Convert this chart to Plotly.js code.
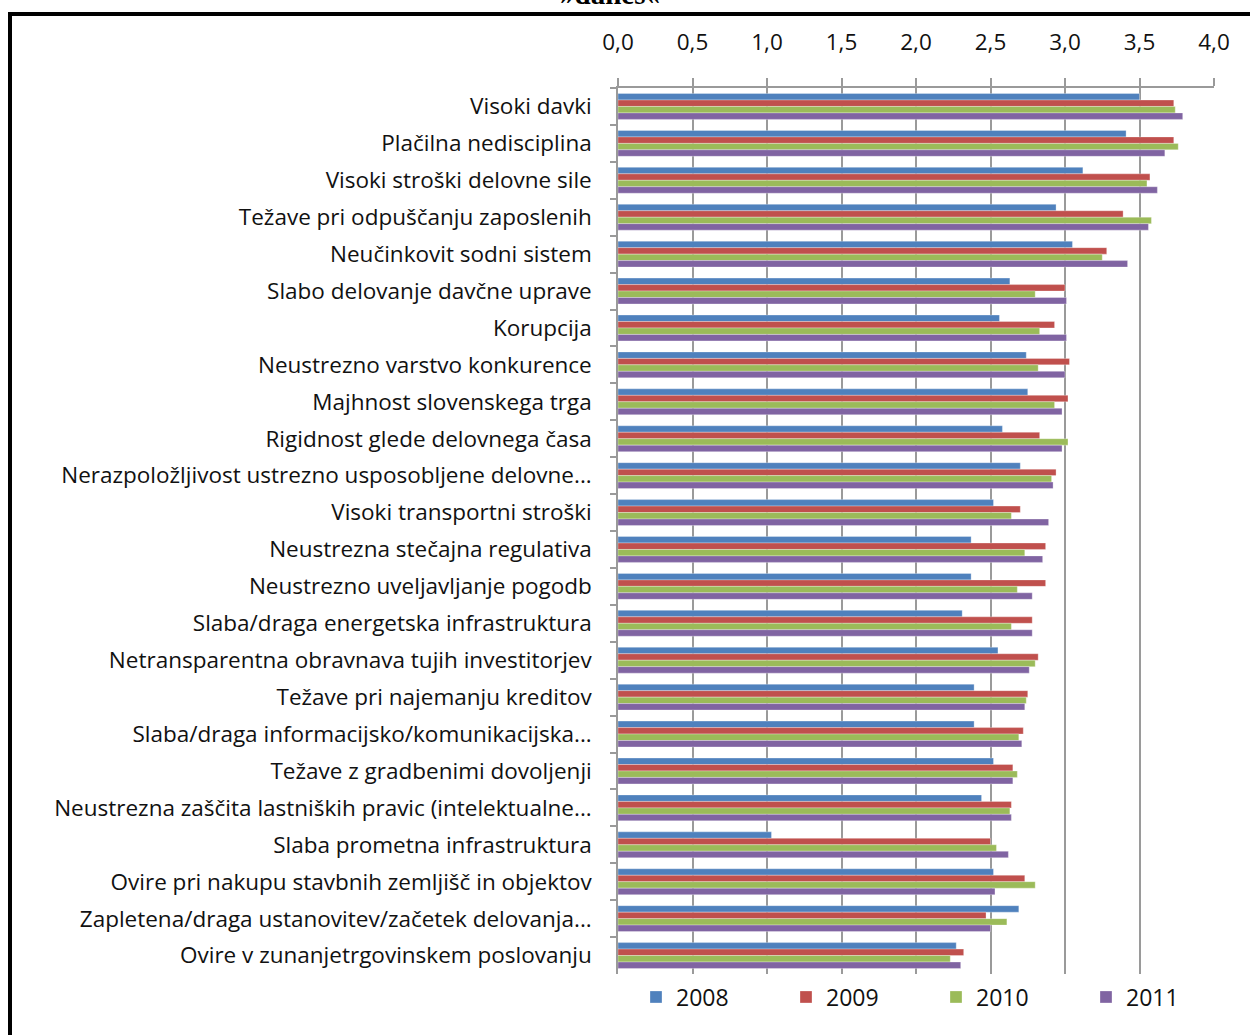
<!DOCTYPE html>
<html>
<head>
<meta charset="utf-8">
<script src="https://cdn.plot.ly/plotly-3.0.1.min.js"></script>
<style>
html,body{margin:0;padding:0;background:#fff;}
#chart{width:1250px;height:1035px;}
</style>
</head>
<body>
<div id="chart"></div>
<script>
const categories = [
  "Visoki davki",
  "Plačilna nedisciplina",
  "Visoki stroški delovne sile",
  "Težave pri odpuščanju zaposlenih",
  "Neučinkovit sodni sistem",
  "Slabo delovanje davčne uprave",
  "Korupcija",
  "Neustrezno varstvo konkurence",
  "Majhnost slovenskega trga",
  "Rigidnost glede delovnega časa",
  "Nerazpoložljivost ustrezno usposobljene delovne...",
  "Visoki transportni stroški",
  "Neustrezna stečajna regulativa",
  "Neustrezno uveljavljanje pogodb",
  "Slaba/draga energetska infrastruktura",
  "Netransparentna obravnava tujih investitorjev",
  "Težave pri najemanju kreditov",
  "Slaba/draga informacijsko/komunikacijska...",
  "Težave z gradbenimi dovoljenji",
  "Neustrezna zaščita lastniških pravic (intelektualne...",
  "Slaba prometna infrastruktura",
  "Ovire pri nakupu stavbnih zemljišč in objektov",
  "Zapletena/draga ustanovitev/začetek delovanja...",
  "Ovire v zunanjetrgovinskem poslovanju"
];
const values2008 = [3.50, 3.41, 3.12, 2.94, 3.05, 2.63, 2.56, 2.74, 2.75, 2.58, 2.70, 2.52, 2.37, 2.37, 2.31, 2.55, 2.39, 2.39, 2.52, 2.44, 1.03, 2.52, 2.69, 2.27];
const values2009 = [3.73, 3.73, 3.57, 3.39, 3.28, 3.00, 2.93, 3.03, 3.02, 2.83, 2.94, 2.70, 2.87, 2.87, 2.78, 2.82, 2.75, 2.72, 2.65, 2.64, 2.50, 2.73, 2.47, 2.32];
const values2010 = [3.74, 3.76, 3.55, 3.58, 3.25, 2.80, 2.83, 2.82, 2.93, 3.02, 2.91, 2.64, 2.73, 2.68, 2.64, 2.80, 2.74, 2.69, 2.68, 2.63, 2.54, 2.80, 2.61, 2.23];
const values2011 = [3.79, 3.67, 3.62, 3.56, 3.42, 3.01, 3.01, 3.00, 2.98, 2.98, 2.92, 2.89, 2.85, 2.78, 2.78, 2.76, 2.73, 2.71, 2.65, 2.64, 2.62, 2.53, 2.50, 2.30];
const seriesNames = ["2008", "2009", "2010", "2011"];
const seriesColors = ["#4F81BD", "#C0504D", "#9BBB59", "#8064A2"];
const seriesValues = [values2008, values2009, values2010, values2011];
const xTicks = [0, 0.5, 1, 1.5, 2, 2.5, 3, 3.5, 4];
const titleText = "»danes«";

const FONT = "Open Sans, Liberation Sans, sans-serif";

const traces = seriesNames.map((name, i) => ({
  type: "bar",
  orientation: "h",
  name: name,
  y: categories,
  x: seriesValues[i],
  marker: {color: seriesColors[i], line: {color: "rgba(255,255,255,0.6)", width: 0.5}},
  hoverinfo: "x+y+name"
}));

// plot area pixel geometry
const W = 1250, H = 1035;
const L = 618, R = 1214, T = 88, B = 974;
const px = v => (v - L) / (R - L);
const py = v => (B - v) / (B - T);

const layout = {
  width: W, height: H,
  margin: {l: L, r: W - R, t: T, b: H - B, pad: 0},
  paper_bgcolor: "#ffffff",
  plot_bgcolor: "#ffffff",
  separators: ",.",
  barmode: "group",
  bargap: 0.30,
  bargroupgap: 0,
  font: {family: FONT, size: 22, color: "#000"},
  xaxis: {
    side: "top",
    range: [0, 4],
    tickvals: xTicks,
    tickformat: ".1f",
    showgrid: true,
    gridcolor: "#9a9a9a",
    gridwidth: 1.5,
    zeroline: false,
    showline: true,
    linecolor: "#9a9a9a",
    linewidth: 1.5,
    ticks: "outside",
    ticklen: 8,
    tickcolor: "#9a9a9a",
    tickwidth: 1.5,
    ticklabelstandoff: 19,
    tickfont: {family: FONT, size: 22.5, color: "#111"},
    fixedrange: true
  },
  yaxis: {
    type: "category",
    autorange: "reversed",
    tickson: "boundaries",
    ticks: "outside",
    ticklen: 6,
    tickcolor: "#9a9a9a",
    tickwidth: 1.5,
    showline: true,
    linecolor: "#9a9a9a",
    linewidth: 1.5,
    showgrid: false,
    zeroline: false,
    ticklabelstandoff: 20,
    tickfont: {family: FONT, size: 22.5, color: "#111"},
    fixedrange: true
  },
  legend: {
    orientation: "h",
    x: px(636), xanchor: "left",
    y: py(997), yanchor: "middle",
    entrywidth: 105, entrywidthmode: "pixels",
    font: {family: FONT, size: 23, color: "#111"},
    traceorder: "normal",
    bgcolor: "rgba(0,0,0,0)"
  },
  annotations: [
    {text: "<b>" + titleText + "</b>", xref: "paper", yref: "paper", x: px(610), y: py(12),
     xanchor: "center", yanchor: "bottom", showarrow: false,
     font: {family: "Liberation Serif, Times New Roman, serif", size: 29, color: "#000"}}
  ],
  shapes: [
    {type: "line", xref: "paper", yref: "paper", x0: px(10), x1: px(1260), y0: py(14), y1: py(14), line: {color: "#000", width: 4}},
    {type: "line", xref: "paper", yref: "paper", x0: px(10), x1: px(10), y0: py(12), y1: py(1045), line: {color: "#000", width: 4}}
  ],
  showlegend: true
};

Plotly.newPlot("chart", traces, layout, {displayModeBar: false});
</script>
</body>
</html>
